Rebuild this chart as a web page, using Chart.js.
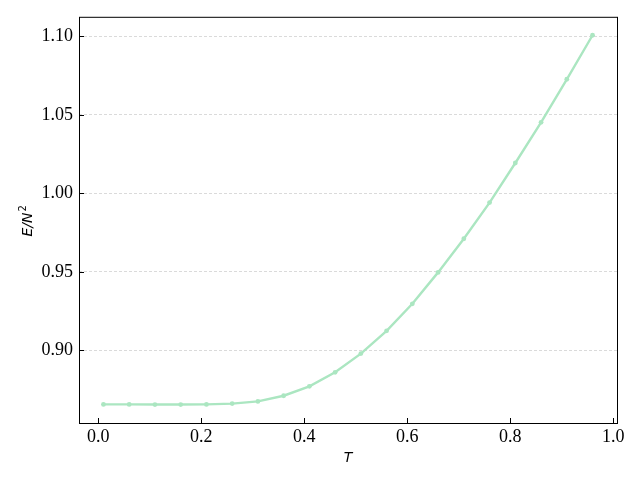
<!DOCTYPE html>
<html>
<head>
<meta charset="utf-8">
<script src="https://cdn.jsdelivr.net/npm/chart.js@4/dist/chart.umd.min.js"></script>
<style>
  html, body { margin: 0; padding: 0; background: #fff; }
  canvas { display: block; }
</style>
</head>
<body>
<canvas id="chart" width="640" height="480"></canvas>
<script>
  // temperatures and energy per N^2
  const temps = [0.01, 0.06, 0.11, 0.16, 0.21, 0.26, 0.31, 0.36, 0.41, 0.46,
                 0.51, 0.56, 0.61, 0.66, 0.71, 0.76, 0.81, 0.86, 0.91, 0.96];
  const energy = [0.8657, 0.8657, 0.8656, 0.8656, 0.8657, 0.8662, 0.8676, 0.8712, 0.8772, 0.8861,
                  0.8980, 0.9125, 0.9297, 0.9497, 0.9711, 0.9941, 1.0193, 1.0452, 1.0726, 1.1006];
  const xTicks = [0.0, 0.2, 0.4, 0.6, 0.8, 1.0];
  const yTicks = [0.90, 0.95, 1.00, 1.05, 1.10];

  const lineColor = 'rgb(171, 230, 193)';
  const tickFont = { family: "'Liberation Serif', 'Times New Roman', serif", size: 18 };
  const titleFont = { family: "'DejaVu Sans', sans-serif", size: 14, style: 'italic' };

  // matplotlib style: box around the axes, short inward ticks, E/N^2 label
  const framePlugin = {
    id: 'frame',
    afterDatasetsDraw(chart) {
      const { ctx, chartArea: a, scales } = chart;
      ctx.save();
      ctx.strokeStyle = '#000';
      ctx.lineWidth = 1;
      ctx.strokeRect(a.left + 0.5, a.top + 0.5, a.right - a.left, a.bottom - a.top);
      ctx.beginPath();
      xTicks.forEach((v) => {
        const px = Math.round(scales.x.getPixelForValue(v)) + 0.5;
        ctx.moveTo(px, a.bottom);
        ctx.lineTo(px, a.bottom - 5);
      });
      yTicks.forEach((v) => {
        const py = Math.round(scales.y.getPixelForValue(v)) + 0.5;
        ctx.moveTo(a.left, py);
        ctx.lineTo(a.left + 5, py);
      });
      ctx.stroke();

      // y label, drawn by hand so the 2 sits as a real superscript
      const midY = (a.top + a.bottom) / 2;
      ctx.translate(32, midY + 1);
      ctx.rotate(-Math.PI / 2);
      ctx.fillStyle = '#000';
      ctx.textBaseline = 'alphabetic';
      ctx.textAlign = 'left';
      ctx.font = "italic 14px 'DejaVu Sans', sans-serif";
      const base = ctx.measureText('E/N').width;
      ctx.font = "10px 'DejaVu Sans', sans-serif";
      const sup = ctx.measureText('2').width;
      const start = -(base + sup + 1) / 2;
      ctx.font = "italic 14px 'DejaVu Sans', sans-serif";
      ctx.fillText('E/N', start, 0);
      ctx.font = "10px 'DejaVu Sans', sans-serif";
      ctx.fillText('2', start + base + 1, -6);
      ctx.restore();
    },
  };

  new Chart(document.getElementById('chart'), {
    type: 'line',
    data: {
      datasets: [{
        data: temps.map((t, i) => ({ x: t, y: energy[i] })),
        borderColor: lineColor,
        backgroundColor: lineColor,
        borderWidth: 2.4,
        pointRadius: 2.4,
        pointBorderWidth: 0,
        tension: 0,
      }],
    },
    options: {
      responsive: false,
      animation: false,
      devicePixelRatio: 1,
      layout: { padding: { top: 15, right: 23, left: 0, bottom: 0 } },
      plugins: { legend: { display: false }, tooltip: { enabled: false } },
      scales: {
        x: {
          type: 'linear',
          min: -0.0375,
          max: 1.0075,
          afterBuildTicks: (s) => { s.ticks = xTicks.map((v) => ({ value: v })); },
          afterFit: (s) => { s.height = 57; },
          grid: { display: false, drawTicks: false },
          border: { display: false },
          ticks: {
            font: tickFont,
            color: '#000',
            padding: 3,
            maxRotation: 0,
            callback: (v) => v.toFixed(1),
          },
          title: {
            display: true,
            text: 'T',
            font: titleFont,
            color: '#000',
            padding: { top: 0, bottom: 13 },
          },
        },
        y: {
          type: 'linear',
          min: 0.85385,
          max: 1.11235,
          afterBuildTicks: (s) => { s.ticks = yTicks.map((v) => ({ value: v })); },
          afterFit: (s) => { s.width = 79; },
          grid: {
            drawTicks: false,
            color: '#d0d0d0',
            lineWidth: 0.8,
          },
          border: { display: false, dash: [3, 2] },
          ticks: {
            font: tickFont,
            color: '#000',
            padding: 6,
            callback: (v) => v.toFixed(2),
          },
        },
      },
    },
    plugins: [framePlugin],
  });
</script>
</body>
</html>
